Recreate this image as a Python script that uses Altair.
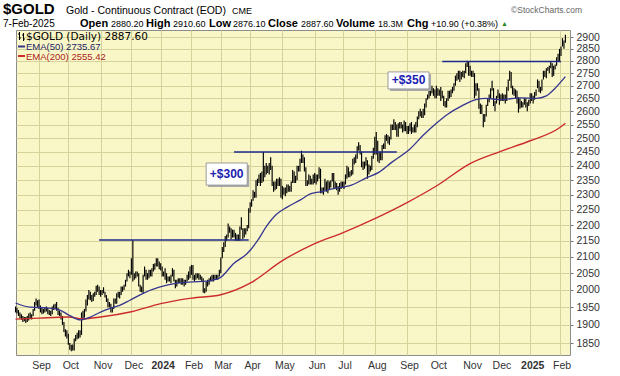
import altair as alt
import pandas as pd

# ---------------- daily price bars (low / high), 10-Aug-2023 .. 7-Feb-2025 ----------------
bar_lo = [
    # Aug 2023
    1935, 1932, 1925, 1918, 1914, 1908, 1910, 1905, 1908, 1912, 1918, 1915, 1925, 1940, 1955, 1950,
    # Sep 2023
    1945, 1935, 1930, 1932, 1935, 1938, 1930, 1928, 1925, 1930, 1942, 1945, 1940, 1928, 1925, 1915, 1900, 1880, 1868, 1862,
    # Oct 2023
    1845, 1832, 1828, 1830, 1830, 1855, 1860, 1862, 1865, 1872, 1915, 1920, 1938, 1955, 1972, 1970, 1965, 1968, 1980, 1985, 1995, 1985,
    # Nov 2023
    1980, 1985, 1990, 1978, 1965, 1950, 1950, 1935, 1935, 1945, 1960, 1960, 1978, 1975, 1985, 1995, 2000, 2010, 2025, 2040, 2035,
    # Dec 2023
    2045, 2025, 2030, 2035, 2040, 2010, 1995, 1993, 1988, 2040, 2030, 2030, 2035, 2040, 2040, 2055, 2060, 2070, 2070, 2062,
    # Jan 2024
    2058, 2040, 2040, 2030, 2020, 2025, 2025, 2020, 2040, 2025, 2005, 2010, 2020, 2020, 2015, 2015, 2010, 2015, 2025, 2030, 2035,
    # Feb 2024
    2045, 2030, 2025, 2030, 2035, 2030, 2030, 2025, 1992, 1990, 1995, 2010, 2015, 2025, 2025, 2025, 2030, 2030, 2030, 2040,
    # Mar 2024
    2050, 2095, 2115, 2130, 2150, 2160, 2175, 2155, 2160, 2160, 2150, 2150, 2150, 2150, 2185, 2155, 2160, 2170, 2180, 2190,
    # Apr 2024
    2240, 2260, 2280, 2290, 2290, 2330, 2340, 2330, 2340, 2345, 2360, 2370, 2375, 2370, 2385, 2330, 2310, 2315, 2320, 2330, 2330, 2290,
    # May 2024
    2285, 2300, 2295, 2305, 2310, 2310, 2310, 2340, 2340, 2340, 2350, 2380, 2380, 2410, 2410, 2380, 2330, 2330, 2335, 2335, 2335, 2335,
    # Jun 2024
    2340, 2335, 2345, 2355, 2305, 2305, 2300, 2315, 2310, 2305, 2320, 2325, 2345, 2320, 2320, 2315, 2300, 2310, 2320,
    # Jul 2024
    2325, 2320, 2335, 2355, 2360, 2360, 2365, 2370, 2405, 2410, 2425, 2455, 2440, 2395, 2385, 2390, 2400, 2355, 2370, 2380, 2385, 2425,
    # Aug 2024
    2440, 2440, 2415, 2410, 2420, 2420, 2460, 2460, 2490, 2480, 2475, 2495, 2530, 2530, 2530, 2505, 2505, 2535, 2535, 2520, 2525, 2525,
    # Sep 2024
    2515, 2515, 2525, 2515, 2520, 2520, 2520, 2540, 2570, 2580, 2575, 2575, 2585, 2615, 2645, 2650, 2660, 2670, 2660, 2650,
    # Oct 2024
    2650, 2660, 2660, 2640, 2650, 2620, 2615, 2615, 2640, 2650, 2655, 2670, 2680, 2700, 2720, 2725, 2715, 2725, 2735, 2730, 2750, 2775, 2740,
    # Nov 2024
    2740, 2735, 2735, 2650, 2660, 2680, 2610, 2590, 2590, 2540, 2560, 2580, 2620, 2635, 2650, 2680, 2620, 2600, 2630, 2650,
    # Dec 2024
    2625, 2640, 2640, 2640, 2630, 2640, 2680, 2720, 2690, 2665, 2660, 2650, 2630, 2595, 2610, 2615, 2615, 2625, 2615, 2600, 2620,
    # Jan 2025
    2630, 2640, 2630, 2645, 2660, 2690, 2675, 2670, 2680, 2725, 2735, 2730, 2760, 2750, 2770, 2735, 2740, 2765, 2780, 2800,
    # Feb 2025
    2800, 2820, 2860, 2850, 2876,
]
bar_hi = [
    # Aug 2023
    1952, 1948, 1942, 1935, 1930, 1925, 1922, 1922, 1925, 1932, 1935, 1930, 1945, 1965, 1975, 1970,
    # Sep 2023
    1972, 1955, 1948, 1945, 1950, 1952, 1948, 1942, 1940, 1952, 1958, 1960, 1965, 1948, 1940, 1935, 1925, 1908, 1888, 1885,
    # Oct 2023
    1875, 1850, 1845, 1846, 1862, 1872, 1878, 1885, 1885, 1935, 1940, 1945, 1972, 1985, 2000, 1995, 1985, 1990, 1995, 2012, 2015, 2010,
    # Nov 2023
    2000, 2000, 2008, 1995, 1985, 1975, 1965, 1960, 1950, 1975, 1975, 1990, 1995, 1995, 2010, 2010, 2015, 2030, 2050, 2060, 2055,
    # Dec 2023
    2095, 2152, 2050, 2055, 2055, 2050, 2015, 2010, 2045, 2070, 2060, 2050, 2060, 2060, 2065, 2078, 2080, 2095, 2095, 2085,
    # Jan 2024
    2080, 2070, 2055, 2065, 2050, 2040, 2040, 2045, 2065, 2060, 2030, 2030, 2035, 2035, 2035, 2035, 2030, 2030, 2045, 2055, 2070,
    # Feb 2024
    2075, 2075, 2045, 2050, 2050, 2050, 2045, 2040, 2035, 2005, 2025, 2030, 2035, 2040, 2045, 2045, 2045, 2045, 2045, 2060,
    # Mar 2024
    2098, 2130, 2145, 2165, 2170, 2205, 2195, 2190, 2185, 2185, 2175, 2170, 2170, 2195, 2225, 2190, 2190, 2190, 2200, 2255,
    # Apr 2024
    2275, 2285, 2315, 2310, 2350, 2355, 2370, 2375, 2380, 2449, 2400, 2410, 2400, 2410, 2430, 2400, 2345, 2345, 2355, 2355, 2360, 2355,
    # May 2024
    2330, 2325, 2325, 2335, 2335, 2330, 2345, 2385, 2380, 2365, 2400, 2400, 2425, 2454, 2440, 2430, 2395, 2350, 2370, 2365, 2355, 2370,
    # Jun 2024
    2375, 2370, 2370, 2395, 2390, 2325, 2325, 2355, 2345, 2350, 2345, 2350, 2375, 2375, 2345, 2340, 2330, 2340, 2345,
    # Jul 2024
    2345, 2345, 2370, 2400, 2395, 2380, 2385, 2425, 2430, 2440, 2470, 2485, 2475, 2450, 2415, 2415, 2430, 2420, 2405, 2400, 2435, 2465,
    # Aug 2024
    2505, 2522, 2490, 2450, 2450, 2475, 2480, 2510, 2515, 2510, 2505, 2550, 2550, 2570, 2560, 2550, 2555, 2560, 2560, 2550, 2565, 2560,
    # Sep 2024
    2545, 2545, 2555, 2560, 2540, 2550, 2560, 2580, 2600, 2610, 2600, 2610, 2630, 2650, 2665, 2690, 2695, 2700, 2690, 2685,
    # Oct 2024
    2700, 2690, 2685, 2695, 2680, 2660, 2640, 2650, 2680, 2680, 2685, 2695, 2710, 2740, 2750, 2760, 2760, 2755, 2760, 2760, 2790, 2801, 2800,
    # Nov 2024
    2780, 2760, 2760, 2750, 2710, 2710, 2690, 2630, 2625, 2590, 2590, 2625, 2650, 2665, 2690, 2720, 2690, 2640, 2660, 2685,
    # Dec 2024
    2670, 2665, 2670, 2665, 2665, 2695, 2725, 2760, 2755, 2700, 2690, 2685, 2680, 2655, 2650, 2640, 2635, 2650, 2650, 2635, 2645,
    # Jan 2025
    2670, 2670, 2660, 2675, 2685, 2725, 2720, 2695, 2725, 2760, 2760, 2770, 2775, 2780, 2800, 2790, 2780, 2785, 2815, 2830,
    # Feb 2025
    2850, 2860, 2895, 2885, 2910,
]

market_holidays = [
    "2023-09-04", "2023-11-23", "2023-12-25", "2024-01-01", "2024-01-15", "2024-02-19",
    "2024-03-29", "2024-05-27", "2024-06-19", "2024-07-04", "2024-09-02", "2024-11-28",
    "2024-12-25", "2025-01-01", "2025-01-09", "2025-01-20",
]

# ---------------- moving averages ----------------
ema50_dates = [
    "2023-08-10", "2023-08-24", "2023-09-11", "2023-09-21", "2023-10-03", "2023-10-12", "2023-10-23",
    "2023-11-01", "2023-11-09", "2023-11-20", "2023-11-30", "2023-12-13", "2023-12-29", "2024-01-18",
    "2024-02-02", "2024-02-15", "2024-02-29", "2024-03-14", "2024-03-27", "2024-04-08", "2024-04-16",
    "2024-04-25", "2024-05-06", "2024-05-17", "2024-05-29", "2024-06-07", "2024-06-20", "2024-07-10",
    "2024-07-24", "2024-08-06", "2024-08-19", "2024-09-05", "2024-09-18", "2024-10-01", "2024-10-11",
    "2024-10-24", "2024-11-07", "2024-11-18", "2024-12-02", "2024-12-23", "2025-01-08", "2025-01-21",
    "2025-01-29", "2025-02-07",
]
ema50_vals = [
    1962, 1950, 1948, 1944, 1926, 1914, 1922,
    1936, 1946, 1955, 1970, 1990, 2008, 2020,
    2024, 2026, 2035, 2080, 2110, 2150, 2195,
    2235, 2258, 2282, 2303, 2310, 2320, 2333,
    2357, 2378, 2414, 2460, 2510, 2555, 2590,
    2620, 2645, 2650, 2645, 2652, 2650, 2660,
    2690, 2736,
]
ema200_dates = [
    "2023-08-10", "2023-09-01", "2023-10-02", "2023-10-16", "2023-11-01", "2023-12-01", "2024-01-02",
    "2024-02-01", "2024-03-01", "2024-04-01", "2024-05-01", "2024-06-03", "2024-07-01", "2024-08-01",
    "2024-09-03", "2024-10-01", "2024-11-01", "2024-12-02", "2025-01-02", "2025-02-03", "2025-02-07",
]
ema200_vals = [
    1916, 1919, 1922, 1917, 1922, 1937, 1960,
    1976, 1986, 2020, 2088, 2141, 2175, 2221,
    2274, 2330, 2408, 2450, 2490, 2538, 2555,
]

# ---------------- axis labels ----------------
month_labels = ["Sep", "Oct", "Nov", "Dec", "2024", "Feb", "Mar", "Apr", "May", "Jun",
                "Jul", "Aug", "Sep", "Oct", "Nov", "Dec", "2025", "Feb"]
y_ticks = [1850, 1900, 1950, 2000, 2050, 2100, 2150, 2200, 2250, 2300, 2350, 2400, 2450,
           2500, 2550, 2600, 2650, 2700, 2750, 2800, 2850, 2900]

# ---------------- resistance lines and annotations ----------------
res_levels = [2152, 2449, 2798]
res_start = ["2023-10-31", "2024-03-14", "2024-10-07"]
res_end = ["2024-03-28", "2024-08-22", "2025-02-04"]

ann_labels = ["+$300", "+$350"]
ann_left = ["2024-02-15", "2024-08-14"]
ann_right = ["2024-03-27", "2024-09-24"]
ann_top = [2410, 2755]
ann_bottom = [2333, 2687]

# ---------------- build tables ----------------
days = pd.bdate_range("2023-08-10", "2025-02-07")
days = days[~days.isin(pd.to_datetime(market_holidays))]
idx = {d.strftime("%Y-%m-%d"): k for k, d in enumerate(days)}
n = min(len(days), len(bar_lo), len(bar_hi))
bars = pd.DataFrame({"i": list(range(n)), "lo": bar_lo[:n], "hi": bar_hi[:n]})

ema50 = pd.DataFrame({"i": [idx[d] for d in ema50_dates], "v": ema50_vals})
ema200 = pd.DataFrame({"i": [idx[d] for d in ema200_dates], "v": ema200_vals})

pos = pd.Series(range(len(days)), index=days)
firsts = pos.groupby([days.year, days.month]).min().tolist()[1:]
year_firsts = [f for f, l in zip(firsts, month_labels) if l.isdigit()]

res = pd.DataFrame({"a": [idx[d] for d in res_start], "b": [idx[d] for d in res_end], "v": res_levels})
ann = pd.DataFrame({
    "t": ann_labels,
    "l": [idx[d] for d in ann_left],
    "r": [idx[d] for d in ann_right],
    "top": ann_top,
    "bot": ann_bottom,
})
ann["cx"] = (ann["l"] + ann["r"]) / 2
ann["cy"] = (ann["top"] * ann["bot"]) ** 0.5

label_expr = ("[" + ",".join("'%s'" % s for s in month_labels) + "][indexof(["
              + ",".join(str(f) for f in firsts) + "], datum.value)]")
weight_expr = ("indexof([" + ",".join(str(f) for f in year_firsts)
               + "], datum.value) >= 0 ? 'bold' : 'normal'")

X0 = 16 - 23 / 1.4663
xs = alt.Scale(domain=[X0, X0 + 554 / 1.4663], nice=False, zero=False)
ys = alt.Scale(type="log", domain=[1817.7, 2930], nice=False)

SANS = "'Liberation Sans', Arial, sans-serif"

x_axis = alt.Axis(values=firsts, labelExpr=label_expr, labelFontWeight={"expr": weight_expr},
                  grid=True, gridColor="#d6d29c", gridWidth=1, domain=False, ticks=False,
                  labelFont=SANS, labelFontSize=10.5, labelColor="#333333", labelPadding=5,
                  labelOffset=2, labelOverlap=False, labelFlush=False, labelBound=False, title=None)
y_axis = alt.Axis(orient="right", values=y_ticks, grid=True, gridColor="#d6d29c", gridWidth=1,
                  domain=False, tickSize=3, tickColor="#777777", labelFont=SANS, labelFontSize=10.5,
                  labelColor="#333333", labelPadding=3, format="d", labelOverlap=False,
                  labelFlush=False, title=None)


def X(f):
    return alt.X(f, scale=xs, axis=x_axis)


def Y(f):
    return alt.Y(f, scale=ys, axis=y_axis)


bar_layer = alt.Chart(bars).mark_rule(color="#000000", strokeWidth=1.15).encode(
    x=X("i:Q"), y=Y("lo:Q"), y2="hi:Q")

ema50_layer = alt.Chart(ema50).mark_line(color="#34358f", strokeWidth=1.3, interpolate="monotone").encode(
    x=X("i:Q"), y=Y("v:Q"))
ema200_layer = alt.Chart(ema200).mark_line(color="#cc2b2b", strokeWidth=1.4, interpolate="monotone").encode(
    x=X("i:Q"), y=Y("v:Q"))

res_layer = alt.Chart(res).mark_rule(color="#1c2a8a", strokeWidth=1.5).encode(
    x=X("a:Q"), x2="b:Q", y=Y("v:Q"))

ann_shadow = alt.Chart(ann).mark_rect(fill="#a8a8a8", xOffset=2, yOffset=2, x2Offset=2, y2Offset=2).encode(
    x=X("l:Q"), x2="r:Q", y=Y("top:Q"), y2="bot:Q")
ann_box = alt.Chart(ann).mark_rect(fill="#ffffff", stroke="#9a9a9a", strokeWidth=1).encode(
    x=X("l:Q"), x2="r:Q", y=Y("top:Q"), y2="bot:Q")
ann_text = alt.Chart(ann).mark_text(font=SANS, fontSize=12, fontWeight="bold", color="#2020b0",
                                    baseline="middle", align="center").encode(
    x=X("cx:Q"), y=Y("cy:Q"), text="t:N")

one = pd.DataFrame({"k": [0]})


def txt(s, x, y, size, font=SANS, weight="normal", color="#000000", align="left"):
    return alt.Chart(one).mark_text(font=font, fontSize=size, fontWeight=weight, color=color,
                                    align=align, baseline="alphabetic").encode(
        x=alt.value(x), y=alt.value(y), text=alt.value(s))


def rule(x1, x2, y1, y2, color, w):
    return alt.Chart(one).mark_rule(color=color, strokeWidth=w).encode(
        x=alt.value(x1), x2=alt.value(x2), y=alt.value(y1), y2=alt.value(y2))


# header: plot origin is at picture (16, 30)
header = [
    txt("$GOLD", -13, -16.5, 15, weight="bold"),
    txt("Gold - Continuous Contract (EOD)", 50, -16, 10.5),
    txt("CME", 216, -16, 9),
    txt("\u00a9StockCharts.com", 566, -17, 8.5, color="#666666", align="right"),
    txt("7-Feb-2025", -13, -3.5, 10),
    txt("Open", 64, -3.5, 11, weight="bold"),
    txt("2880.20", 95, -3.5, 9),
    txt("High", 130, -3.5, 11, weight="bold"),
    txt("2910.60", 157, -3.5, 9),
    txt("Low", 193, -3.5, 11, weight="bold"),
    txt("2876.10", 217, -3.5, 9),
    txt("Close", 252, -3.5, 11, weight="bold"),
    txt("2887.60", 285, -3.5, 9),
    txt("Volume", 320, -3.5, 11, weight="bold"),
    txt("18.3M", 362, -3.5, 9),
    txt("Chg", 391, -3.5, 11, weight="bold"),
    txt("+10.90 (+0.38%)", 415, -3.5, 9),
    txt("\u25b2", 485, -4.5, 7, color="#2a8a2a"),
]

legend = [
    rule(3.5, 3.5, 2, 10, "#000000", 1), rule(2, 3.5, 4, 4, "#000000", 1),
    rule(3.5, 5, 8, 8, "#000000", 1),
    rule(7.5, 7.5, 3, 11, "#000000", 1), rule(6, 7.5, 5, 5, "#000000", 1),
    rule(7.5, 9, 9, 9, "#000000", 1),
    txt("$GOLD (Daily) 2887.60", 10, 10, 10.5, font="'DejaVu Sans', Verdana, sans-serif"),
    rule(2, 9, 16.5, 16.5, "#34358f", 2),
    txt("EMA(50) 2735.67", 10, 20, 9.5, color="#222266"),
    rule(2, 9, 26, 26, "#cc2b2b", 2),
    txt("EMA(200) 2555.42", 10, 29.5, 9.5, color="#aa2222"),
]

chart = alt.layer(
    bar_layer, ema200_layer, ema50_layer, res_layer,
    ann_shadow, ann_box, ann_text,
    *legend, *header,
).properties(
    width=554, height=325,
    padding={"left": 16, "top": 30, "right": 50, "bottom": 21},
    autosize=alt.AutoSizeParams(type="none"),
    background="#ffffff",
).configure_view(
    fill="#f9f7c8", stroke="#8c8c8c", strokeWidth=1,
).configure_axis(
    labelOverlap=False,
)

chart.save("out.html", embed_options={"renderer": "svg", "actions": False})
